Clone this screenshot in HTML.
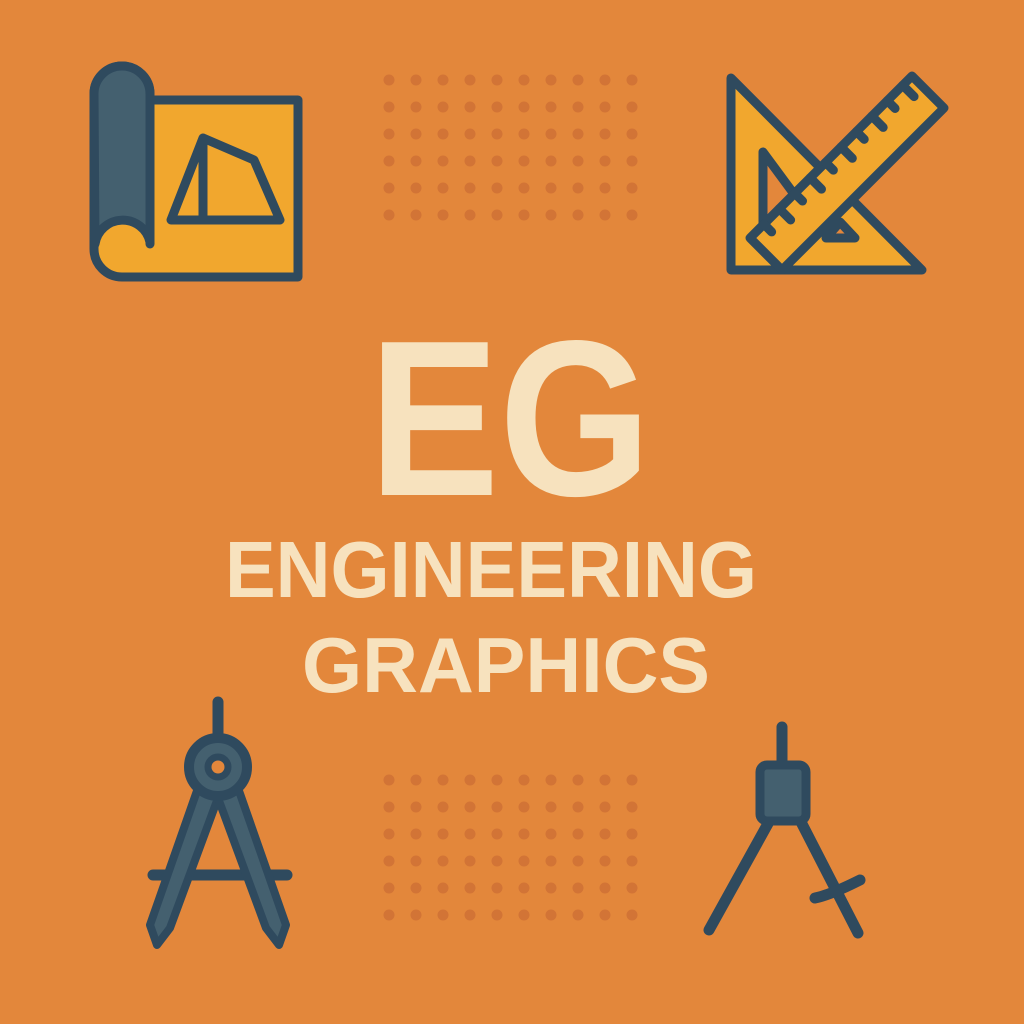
<!DOCTYPE html>
<html><head><meta charset="utf-8"><style>
html,body{margin:0;padding:0;background:#E3873B;}
svg{display:block;}
</style></head><body>
<svg width="1024" height="1024" viewBox="0 0 1024 1024">
<rect width="1024" height="1024" fill="#E3873B"/>
<g id="dots-top" fill="#D27436"></g>
<g id="dots-bottom" fill="#D27436"></g>

<g stroke="#2F4A5E" stroke-width="9" stroke-linejoin="round" stroke-linecap="round">
  <path d="M150,100 H298 V277 H122 A28,28 0 0 1 94,249 V94 A28,28 0 0 1 150,94 Z" fill="#F1A72E"/>
  <path d="M94,94 A28,28 0 0 1 150,94 V242 A28,28 0 0 0 95,244 Z" fill="#44606F"/>
  <path d="M150,94 V244" fill="none"/>
  <path d="M203,138 L254,160 L280,220 L171,220 Z M203,138 V220" fill="none"/>
</g>

<g stroke="#2F4A5E" stroke-width="9" stroke-linejoin="round" stroke-linecap="round">
  <path d="M731,78 L731,270 L922,270 Z" fill="#F1A72E"/>
  <path d="M763,152 L763,232 L822,232 Z" fill="#E3873B"/>
  <path d="M912,76 L944,108 L782,270 L750,238 Z" fill="#F1A72E"/>
  <path d="M826,238 L855,238 L840,222 Z" fill="#E3873B"/>
  <g id="ruler-ticks"></g>
</g>

<g stroke-linecap="round">
  <line x1="218" y1="702" x2="218" y2="740" stroke="#2F4A5E" stroke-width="11"/>
  <line x1="153" y1="875" x2="287" y2="875" stroke="#2F4A5E" stroke-width="11"/>
  <path d="M198,788 L150,925 L157,945 L170,928 L218,798 Z" fill="#44606F" stroke="#2F4A5E" stroke-width="8" stroke-linejoin="round"/>
  <path d="M238,788 L286,925 L279,945 L266,928 L218,798 Z" fill="#44606F" stroke="#2F4A5E" stroke-width="8" stroke-linejoin="round"/>
  <circle cx="218" cy="767" r="29" fill="#44606F" stroke="#2F4A5E" stroke-width="10"/>
  <circle cx="218" cy="767" r="10" fill="#E3873B" stroke="#2F4A5E" stroke-width="7"/>
</g>

<g stroke="#2F4A5E" stroke-linecap="round">
  <line x1="782" y1="727" x2="782" y2="765" stroke-width="11"/>
  <line x1="770" y1="820" x2="709" y2="930" stroke-width="11"/>
  <line x1="800" y1="820" x2="858" y2="933" stroke-width="11"/>
  <path d="M815,898 Q830,895 860,880" fill="none" stroke-width="11"/>
  <rect x="760" y="765" width="46" height="56" rx="7" fill="#44606F" stroke-width="9"/>
</g>

<g fill="#F7E2BE" font-family="'Liberation Sans', sans-serif" font-weight="bold" text-anchor="middle">
  <text x="510" y="495" font-size="222" textLength="282" lengthAdjust="spacingAndGlyphs">EG</text>
  <text x="491" y="597" font-size="80" textLength="532" lengthAdjust="spacingAndGlyphs">ENGINEERING</text>
  <text x="506" y="692" font-size="78" textLength="408" lengthAdjust="spacingAndGlyphs">GRAPHICS</text>
</g>
</svg>
<script>
const NS='http://www.w3.org/2000/svg';
function grid(id,y0){
  const g=document.getElementById(id);
  for(let r=0;r<6;r++)for(let c=0;c<10;c++){
    const d=document.createElementNS(NS,'circle');
    d.setAttribute('cx',389+c*27);d.setAttribute('cy',y0+r*27);d.setAttribute('r',5.5);
    
    
    g.appendChild(d);
  }
}
grid('dots-top',80);grid('dots-bottom',780);
const t=document.getElementById('ruler-ticks');
for(let i=0;i<10;i++){
  const k=(i+0.6)/10.5;
  const x=912+(750-912)*k, y=76+(238-76)*k;
  const len=(i%2===0)?16:11;
  const l=document.createElementNS(NS,'line');
  l.setAttribute('x1',x);l.setAttribute('y1',y);
  l.setAttribute('x2',x+len*0.707);l.setAttribute('y2',y+len*0.707);
  
  
  t.appendChild(l);
}
</script>
</body></html>
